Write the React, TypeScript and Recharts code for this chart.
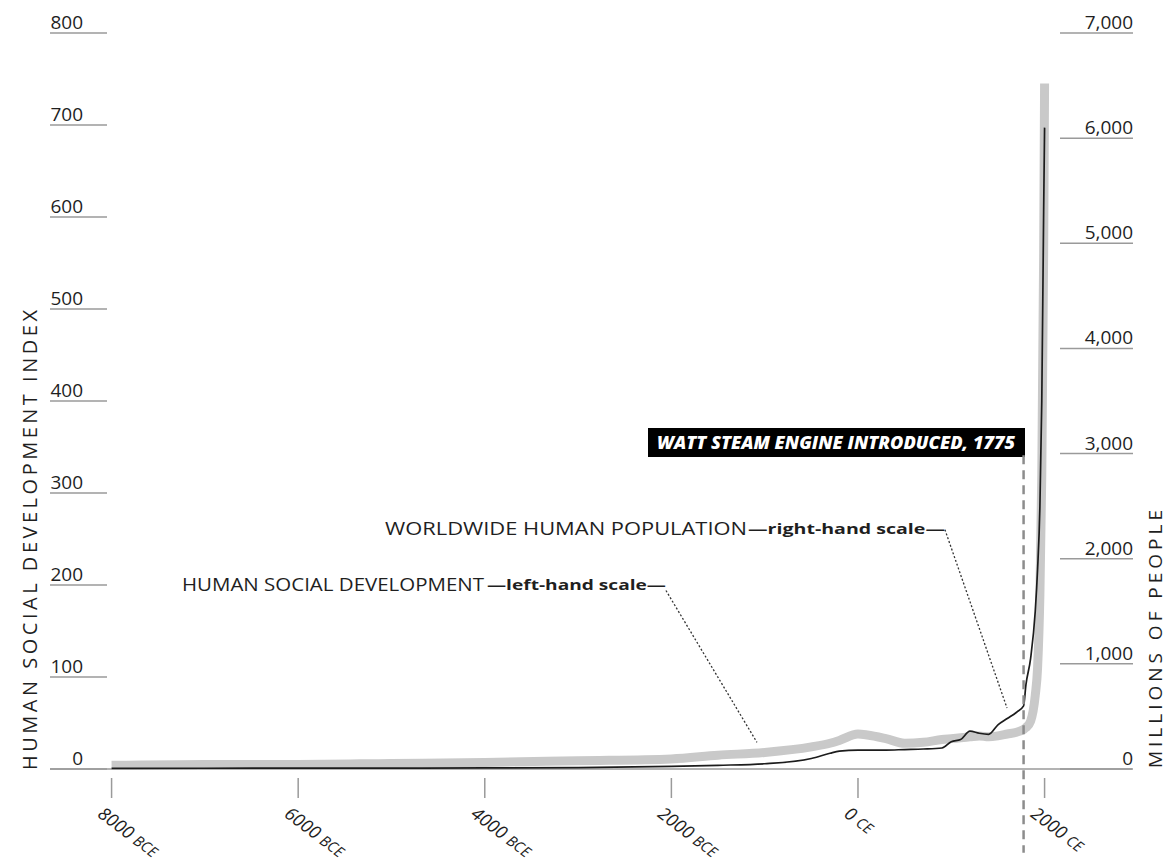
import React from 'react'
import { ComposedChart, Line, XAxis, YAxis, ReferenceLine, Customized } from 'recharts'

// years (negative = BCE)
const years = [-8000, -7000, -6000, -5000, -4000, -3000, -2000, -1500, -1000, -500, -300, -200, 0, 100, 300, 500, 700, 900, 1000, 1100, 1200, 1300, 1400, 1500, 1600, 1700, 1775, 1800, 1850, 1900, 1925, 1950, 1970, 1990, 2000]
// human social development index (left-hand scale)
const socialDev = [4, 5, 5, 6, 7, 9, 11, 15, 18, 24, 28, 31, 38, 37, 33, 28, 29, 32, 33, 34, 35, 36, 35, 36, 38, 40, 43, 45, 52, 80, 110, 190, 320, 560, 745]
// worldwide population, millions (right-hand scale)
const population = [5, 7, 8, 9, 10, 14, 25, 35, 50, 100, 150, 170, 180, 180, 180, 185, 190, 200, 260, 280, 360, 340, 330, 420, 480, 540, 600, 800, 1050, 1500, 1900, 2500, 3500, 5300, 6100]

const leftTicks = [0, 100, 200, 300, 400, 500, 600, 700, 800]
const rightTicks = [0, 1000, 2000, 3000, 4000, 5000, 6000, 7000]
const xTicks = [-8000, -6000, -4000, -2000, 0, 2000]
const xTickNumbers = ['8000', '6000', '4000', '2000', '0', '2000']
const xTickEras = ['BCE', 'BCE', 'BCE', 'BCE', 'CE', 'CE']

const wattYear = 1775

const data = years.map((year, i) => ({ year, dev: socialDev[i], pop: population[i] }))

const W = 1168
const H = 862
const PLOT_LEFT = 50
const PLOT_RIGHT = 1132
const PLOT_TOP = 33
const PLOT_BOTTOM = 769
// axes get 1px each, the rest is margin
const M = { top: PLOT_TOP, right: W - PLOT_RIGHT - 1, bottom: H - PLOT_BOTTOM - 1, left: PLOT_LEFT - 1 }
const FONT = '"Open Sans", "DejaVu Sans", sans-serif'
const INK = '#1f1f1f'
const RULE = '#9a9a9a'

const LeftTick = (props: any) => {
  const { y, payload } = props
  return (
    <g>
      <line x1={PLOT_LEFT} x2={PLOT_LEFT + 57} y1={y} y2={y} stroke={RULE} strokeWidth={1.5} />
      <text x={PLOT_LEFT + 33} y={y - 4} textAnchor="end" fontFamily={FONT} fontSize={19} fill={INK}>
        {payload.value}
      </text>
    </g>
  )
}

const RightTick = (props: any) => {
  const { y, payload } = props
  return (
    <g>
      <line x1={PLOT_RIGHT - 72} x2={PLOT_RIGHT + 1} y1={y} y2={y} stroke={RULE} strokeWidth={1.5} />
      <text x={PLOT_RIGHT + 1} y={y - 4} textAnchor="end" fontFamily={FONT} fontSize={19} fill={INK}>
        {payload.value.toLocaleString('en-US')}
      </text>
    </g>
  )
}

const BottomTick = (props: any) => {
  const { x, payload, index } = props
  const lx = x - 15
  const ly = PLOT_BOTTOM + 47
  return (
    <g>
      <line x1={x} x2={x} y1={PLOT_BOTTOM + 9} y2={PLOT_BOTTOM + 29} stroke={RULE} strokeWidth={1.5} />
      <text x={lx} y={ly} transform={`rotate(37, ${lx}, ${ly})`} fontFamily={FONT} fontStyle="italic" fill={INK}>
        <tspan fontSize={18}>{xTickNumbers[index] ?? payload.value} </tspan>
        <tspan fontSize={15}>{xTickEras[index]}</tspan>
      </text>
    </g>
  )
}

const Annotations = () => (
  <g fontFamily={FONT} fill={INK}>
    {/* baseline */}
    <line x1={PLOT_LEFT} x2={PLOT_RIGHT} y1={PLOT_BOTTOM} y2={PLOT_BOTTOM} stroke={RULE} strokeWidth={1.5} />

    {/* axis titles */}
    <text x={37} y={540} transform="rotate(-90, 37, 540)" textAnchor="middle" fontSize={20}
      textLength={460} lengthAdjust="spacing">HUMAN SOCIAL DEVELOPMENT INDEX</text>
    <text x={1162} y={639} transform="rotate(-90, 1162, 639)" textAnchor="middle" fontSize={19}
      textLength={258} lengthAdjust="spacing">MILLIONS OF PEOPLE</text>

    {/* series labels */}
    <text x={182} y={591} fontSize={18} textLength={302} lengthAdjust="spacingAndGlyphs">HUMAN SOCIAL DEVELOPMENT</text>
    <text x={487} y={590} fontSize={14} fontWeight={700} textLength={179} lengthAdjust="spacingAndGlyphs">—left-hand scale—</text>
    <text x={385} y={535} fontSize={18} textLength={362} lengthAdjust="spacingAndGlyphs">WORLDWIDE HUMAN POPULATION</text>
    <text x={748} y={534} fontSize={14} fontWeight={700} textLength={197} lengthAdjust="spacingAndGlyphs">—right-hand scale—</text>

    {/* watt box */}
    <rect x={648} y={428} width={377} height={29} fill="#000" />
    <text x={657} y={449} fill="#fff" fontSize={17} fontWeight={800} fontStyle="italic"
      textLength={358} lengthAdjust="spacingAndGlyphs">WATT STEAM ENGINE INTRODUCED, 1775</text>
  </g>
)

export default function App() {
  return (
    <div style={{ position: 'absolute', left: 0, top: 0, width: W, height: H, background: '#fff' }}>
      <ComposedChart width={W} height={H} data={data} margin={M}>
        <Customized component={Annotations} />
        <XAxis
          dataKey="year"
          type="number"
          domain={[-8660, 2937]}
          ticks={xTicks}
          height={1}
          axisLine={false}
          tickLine={false}
          tick={<BottomTick />}
          interval={0}
          allowDataOverflow
        />
        <YAxis yAxisId="left" domain={[0, 800]} ticks={leftTicks} width={1} axisLine={false} tickLine={false} tick={<LeftTick />} interval={0} />
        <YAxis yAxisId="right" orientation="right" domain={[0, 7000]} ticks={rightTicks} width={1} axisLine={false} tickLine={false} tick={<RightTick />} interval={0} />

        {/* leader lines */}
        <ReferenceLine yAxisId="left" ifOverflow="visible" segment={[{ x: -2058, y: 194 }, { x: -1083, y: 29 }]}
          stroke="#333" strokeWidth={1.3} strokeDasharray="2 2" />
        <ReferenceLine yAxisId="right" ifOverflow="visible" segment={[{ x: 932, y: 2276 }, { x: 1597, y: 581 }]}
          stroke="#333" strokeWidth={1.3} strokeDasharray="2 2" />

        <Line yAxisId="left" dataKey="dev" type="monotone" stroke="#c9c9c9" strokeWidth={9} dot={false} isAnimationActive={false} />
        <Line yAxisId="right" dataKey="pop" type="monotone" stroke="#1c1c1c" strokeWidth={1.7} dot={false} isAnimationActive={false} />

        {/* watt steam engine marker */}
        <ReferenceLine yAxisId="left" ifOverflow="visible" segment={[{ x: wattYear, y: 341 }, { x: wattYear, y: -91 }]}
          stroke="#8c8c8c" strokeWidth={2.5} strokeDasharray="9 6" />
      </ComposedChart>
    </div>
  )
}
